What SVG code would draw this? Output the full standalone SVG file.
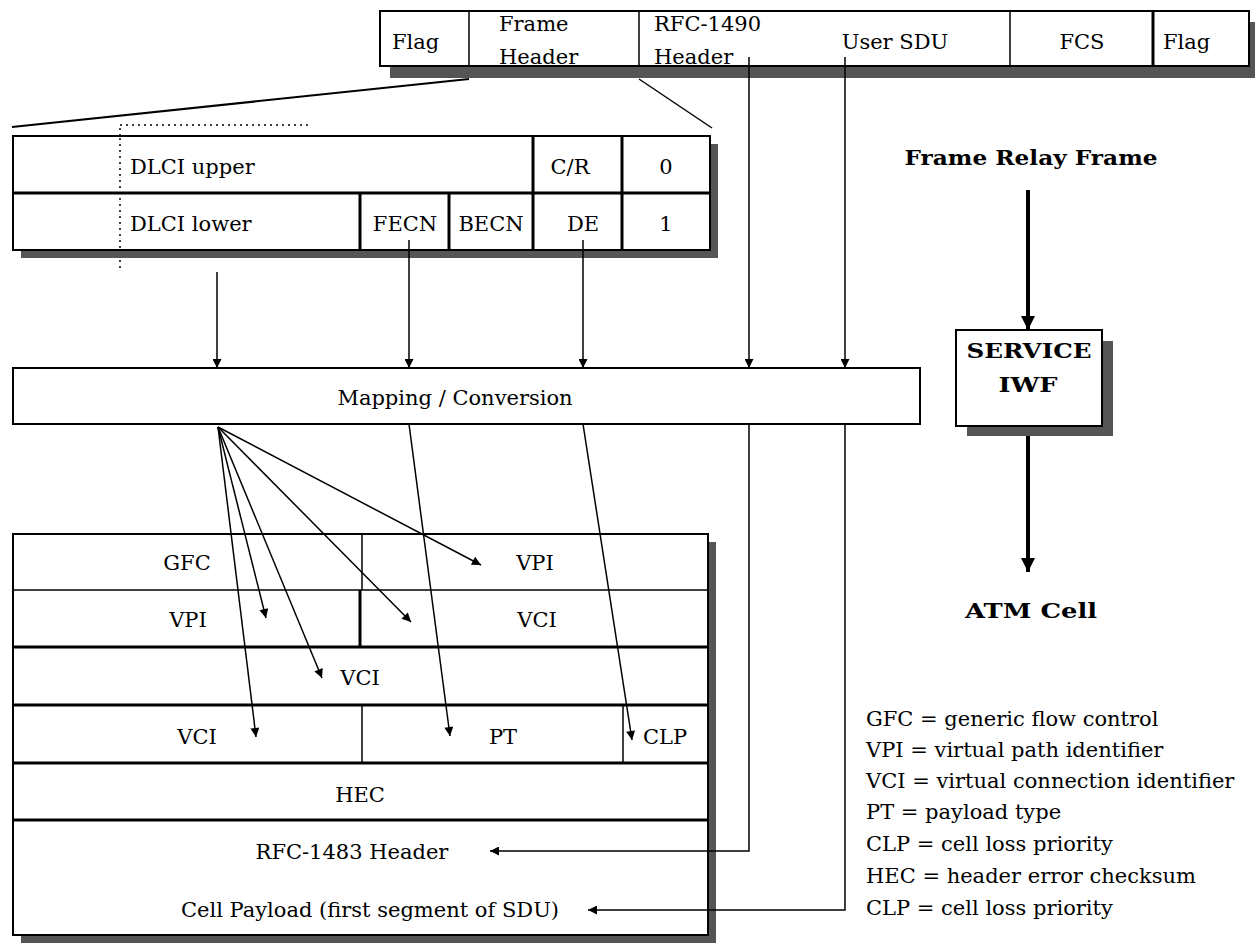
<svg xmlns="http://www.w3.org/2000/svg" width="1255" height="943" viewBox="0 0 1255 943">
<defs>
<marker id="ah" viewBox="0 0 10 10" refX="10" refY="5" markerWidth="11" markerHeight="9" orient="auto" markerUnits="userSpaceOnUse"><path d="M0,0 L10,5 L0,10 z" fill="#000"/></marker>
<marker id="ahb" viewBox="0 0 10 10" refX="10" refY="5" markerWidth="14" markerHeight="16" orient="auto" markerUnits="userSpaceOnUse"><path d="M0,0 L10,5 L0,10 z" fill="#000"/></marker>
<style>
text{font-family:"DejaVu Serif","Liberation Serif",serif;font-size:21px;fill:#000}
.c{text-anchor:middle}
.b{font-weight:bold}
.box{fill:#fff;stroke:#000;stroke-width:2}
.sh{fill:#555}
.ln{stroke:#000;stroke-width:1.5;fill:none}
.tk{stroke:#000;stroke-width:3;fill:none}
.cn{stroke:#000;stroke-width:1.5;fill:none;marker-end:url(#ah)}
.big{stroke:#000;stroke-width:4;fill:none;marker-end:url(#ahb)}
.dot{stroke:#000;stroke-width:1.5;stroke-dasharray:2 4;fill:none}
</style>
</defs>
<rect width="1255" height="943" fill="#fff"/>

<g id="frame">
<rect class="sh" x="390" y="22" width="869" height="56"/>
<rect class="box" x="380" y="11" width="869" height="55"/>
<line class="ln" x1="469" y1="11" x2="469" y2="66"/>
<line class="ln" x1="639" y1="11" x2="639" y2="66"/>
<line class="ln" x1="1010" y1="11" x2="1010" y2="66"/>
<line class="tk" x1="1153" y1="11" x2="1153" y2="66"/>
<text x="392" y="49">Flag</text>
<text x="499" y="31">Frame</text>
<text x="499" y="64">Header</text>
<text x="654" y="31">RFC-1490</text>
<text x="654" y="64">Header</text>
<text class="c" x="895" y="49">User SDU</text>
<text class="c" x="1082" y="49">FCS</text>
<text x="1163" y="49">Flag</text>
</g>

<g id="expansion">
<line x1="469" y1="79" x2="12" y2="127" stroke="#000" stroke-width="2"/>
<line class="ln" x1="639" y1="79" x2="712" y2="128"/>
<line class="dot" x1="120" y1="125" x2="312" y2="125"/>
<line class="dot" x1="120" y1="128" x2="120" y2="270"/>
</g>

<g id="frame-header">
<rect class="sh" x="21" y="144" width="697" height="114"/>
<rect class="box" x="13" y="136" width="697" height="114"/>
<line class="dot" x1="120" y1="138" x2="120" y2="248"/>
<line class="tk" x1="13" y1="193" x2="710" y2="193"/>
<line class="tk" x1="533" y1="136" x2="533" y2="250"/>
<line class="tk" x1="622" y1="136" x2="622" y2="250"/>
<line class="tk" x1="360" y1="193" x2="360" y2="250"/>
<line class="tk" x1="449" y1="193" x2="449" y2="250"/>
<text x="130" y="174">DLCI upper</text>
<text class="c" x="570" y="174">C/R</text>
<text class="c" x="666" y="174">0</text>
<text x="130" y="231">DLCI lower</text>
<text class="c" x="405" y="231">FECN</text>
<text class="c" x="491" y="231">BECN</text>
<text class="c" x="583" y="231">DE</text>
<text class="c" x="666" y="231">1</text>
</g>

<g id="mapping">
<rect class="box" x="13" y="368" width="907" height="56"/>
<text class="c" x="455" y="405">Mapping / Conversion</text>
</g>

<g id="atm-cell">
<rect class="sh" x="21" y="542" width="695" height="401"/>
<rect class="box" x="13" y="534" width="695" height="401"/>
<line class="ln" x1="13" y1="590" x2="708" y2="590"/>
<line class="tk" x1="13" y1="647" x2="708" y2="647"/>
<line class="tk" x1="13" y1="705" x2="708" y2="705"/>
<line class="tk" x1="13" y1="763" x2="708" y2="763"/>
<line class="tk" x1="13" y1="820" x2="708" y2="820"/>
<line class="ln" x1="362" y1="534" x2="362" y2="590"/>
<line class="tk" x1="360" y1="590" x2="360" y2="647"/>
<line class="ln" x1="362" y1="705" x2="362" y2="763"/>
<line class="ln" x1="623" y1="705" x2="623" y2="763"/>
<text class="c" x="187" y="570">GFC</text>
<text class="c" x="535" y="570">VPI</text>
<text class="c" x="188" y="627">VPI</text>
<text class="c" x="537" y="627">VCI</text>
<text class="c" x="360" y="685">VCI</text>
<text class="c" x="197" y="744">VCI</text>
<text class="c" x="503" y="744">PT</text>
<text class="c" x="665" y="744">CLP</text>
<text class="c" x="360" y="802">HEC</text>
<text class="c" x="352" y="859">RFC-1483 Header</text>
<text class="c" x="370" y="917">Cell Payload (first segment of SDU)</text>
</g>

<g id="iwf">
<text class="c b" x="1031" y="165" textLength="253" lengthAdjust="spacingAndGlyphs">Frame Relay Frame</text>
<rect class="sh" x="967" y="341" width="146" height="95"/>
<rect class="box" x="956" y="330" width="146" height="96"/>
<text class="c b" x="1029" y="358" textLength="125" lengthAdjust="spacingAndGlyphs">SERVICE</text>
<text class="c b" x="1028" y="392" textLength="59" lengthAdjust="spacingAndGlyphs">IWF</text>
<text class="c b" x="1031" y="618" textLength="132" lengthAdjust="spacingAndGlyphs">ATM Cell</text>
</g>

<g id="legend">
<text x="866" y="726">GFC = generic flow control</text>
<text x="866" y="757">VPI = virtual path identifier</text>
<text x="866" y="788">VCI = virtual connection identifier</text>
<text x="866" y="819">PT = payload type</text>
<text x="866" y="851">CLP = cell loss priority</text>
<text x="866" y="883">HEC = header error checksum</text>
<text x="866" y="915">CLP = cell loss priority</text>
</g>

<g id="connectors">
<line class="cn" x1="217" y1="272" x2="217" y2="368"/>
<line class="cn" x1="409" y1="240" x2="409" y2="368"/>
<line class="cn" x1="583" y1="240" x2="583" y2="368"/>
<line class="cn" x1="749" y1="57" x2="749" y2="368"/>
<line class="cn" x1="845" y1="57" x2="845" y2="368"/>
<line class="cn" x1="218" y1="427" x2="481" y2="565"/>
<line class="cn" x1="218" y1="427" x2="411" y2="622"/>
<line class="cn" x1="218" y1="427" x2="266" y2="618"/>
<line class="cn" x1="218" y1="427" x2="322" y2="678"/>
<line class="cn" x1="218" y1="427" x2="256" y2="737"/>
<line class="cn" x1="409" y1="424" x2="450" y2="736"/>
<line class="cn" x1="583" y1="424" x2="632" y2="740"/>
<polyline class="cn" points="749,424 749,851 490,851"/>
<polyline class="cn" points="845,424 845,910 588,910"/>
<line class="big" x1="1028" y1="190" x2="1028" y2="330"/>
<line class="big" x1="1028" y1="436" x2="1028" y2="572"/>
</g>
</svg>
